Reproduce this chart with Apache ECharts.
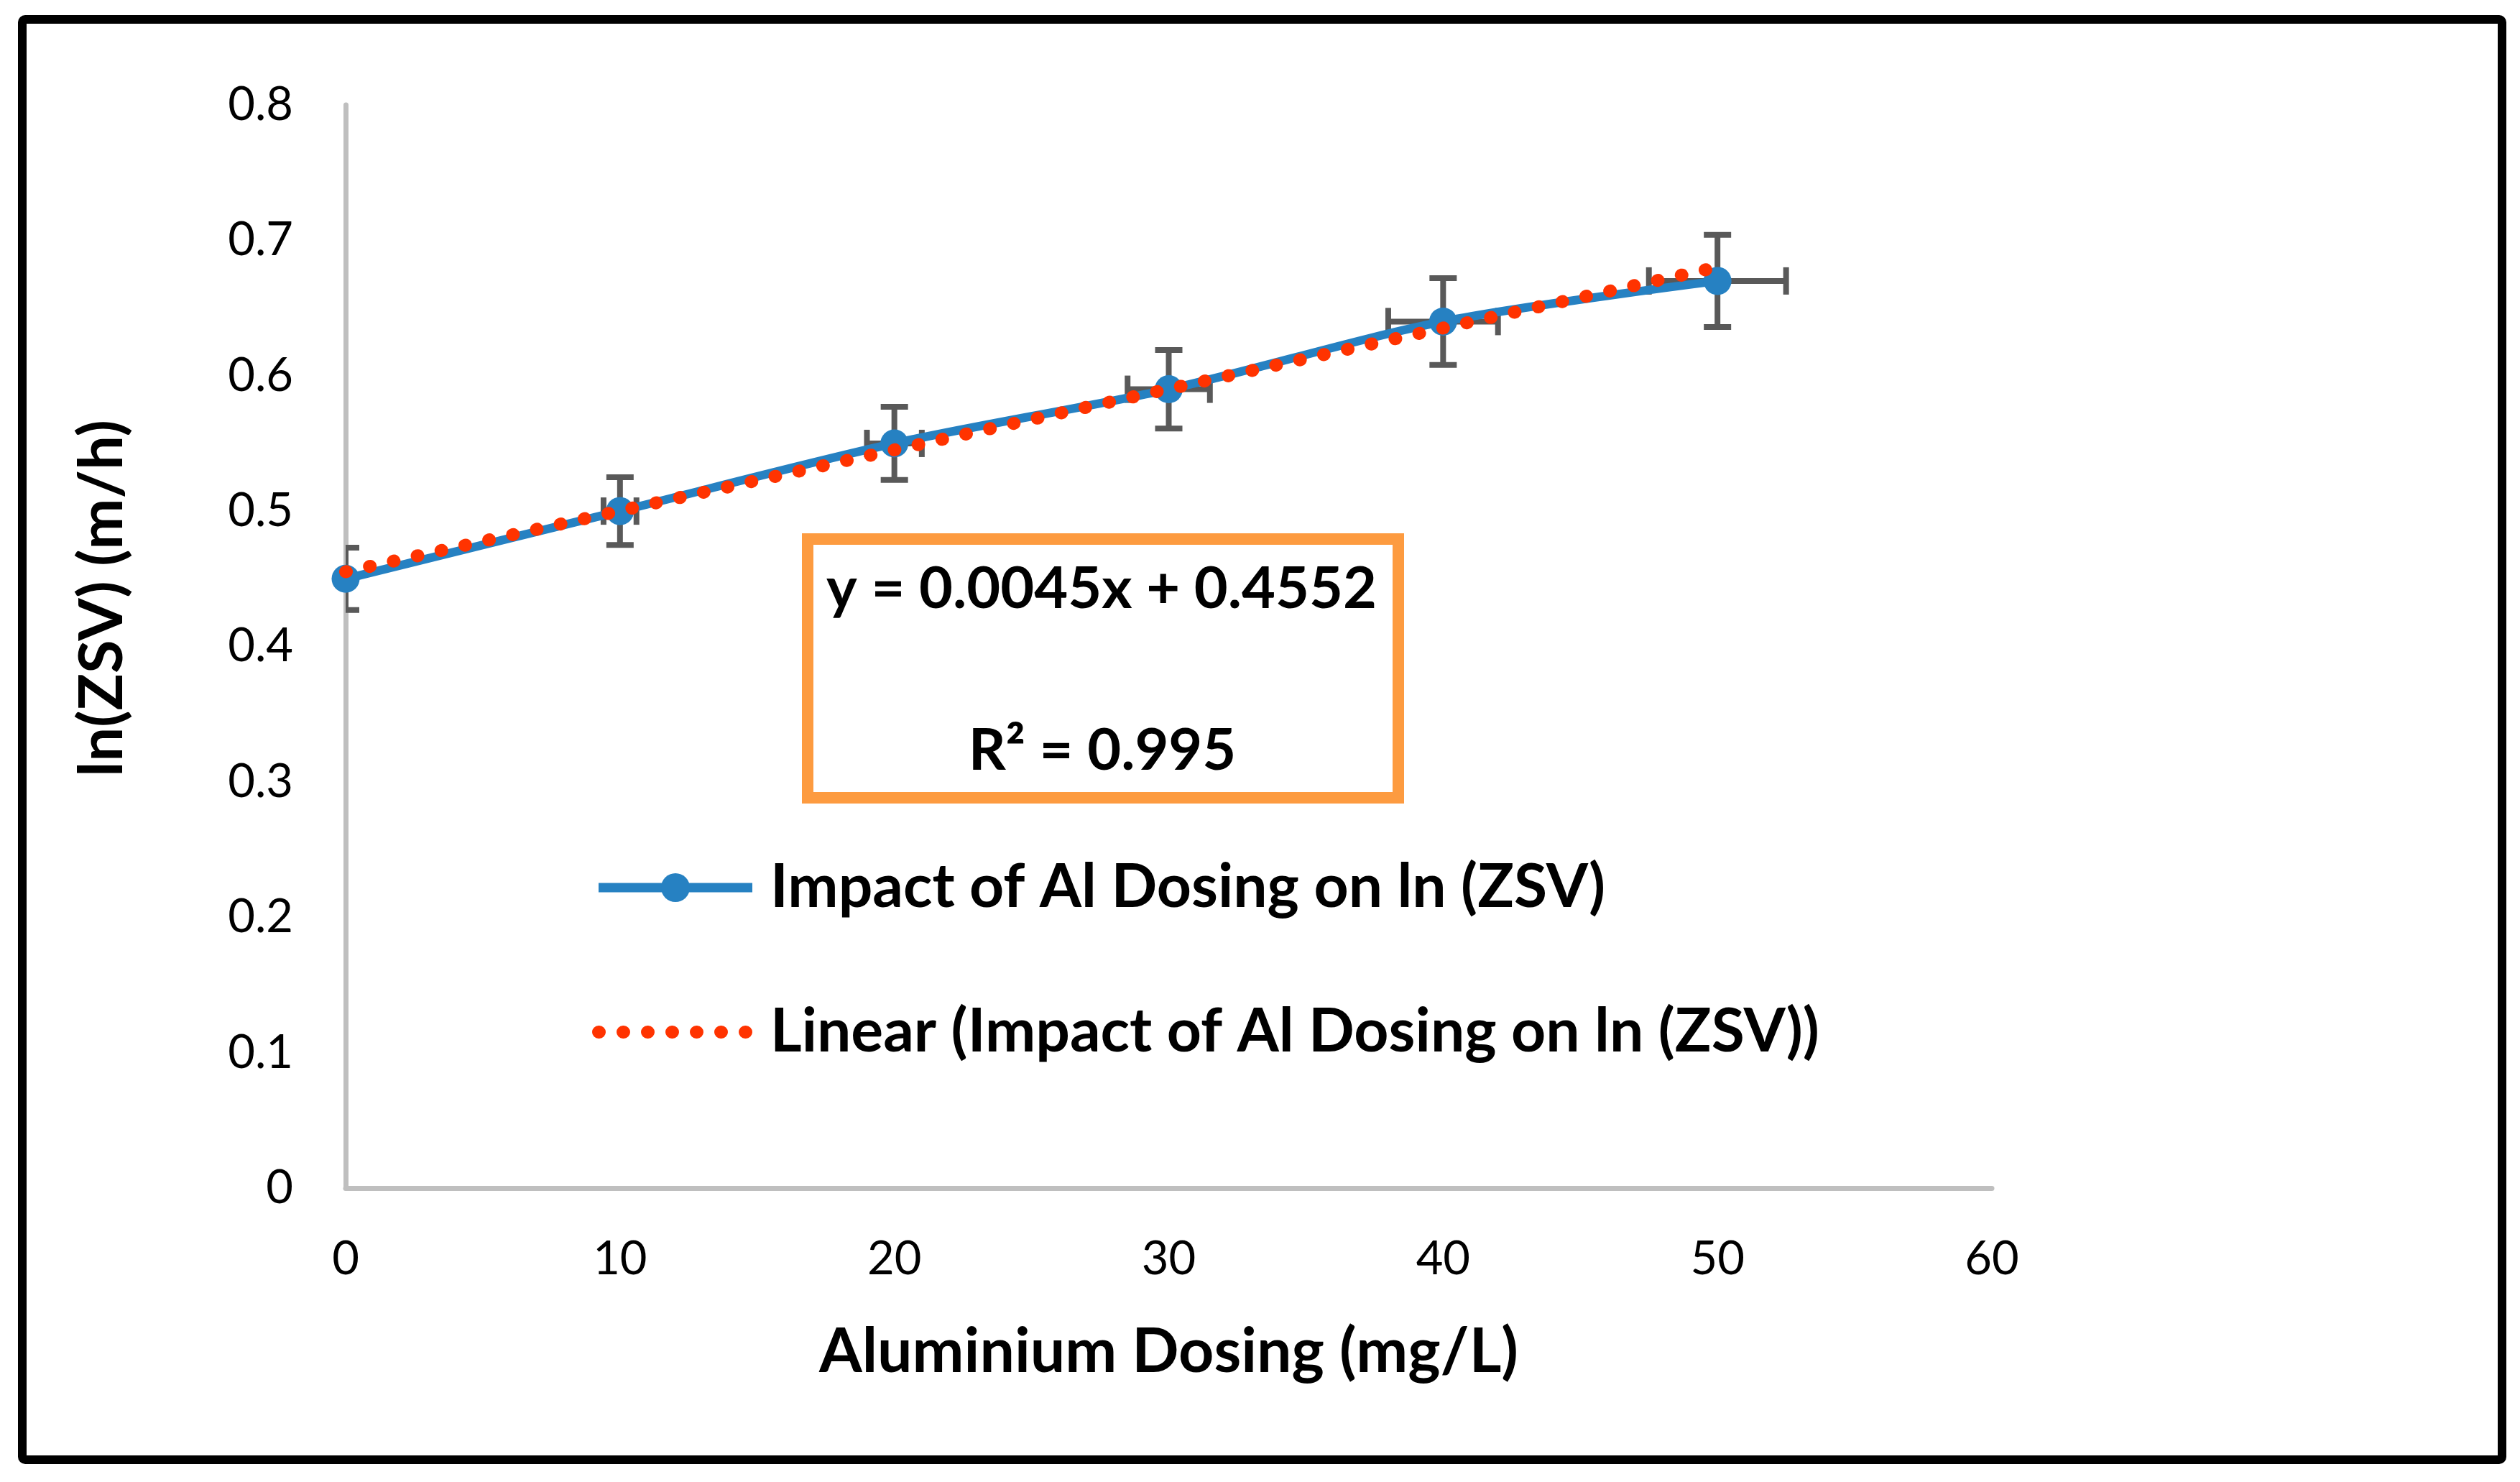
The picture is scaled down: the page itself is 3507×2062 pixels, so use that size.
<!DOCTYPE html>
<html>
<head>
<meta charset="utf-8">
<script src="https://cdn.jsdelivr.net/npm/echarts@6/dist/echarts.min.js"></script>
<style>
  html, body { margin: 0; padding: 0; background: #fff; }
  #chart { width: 3507px; height: 2062px; }
</style>
</head>
<body>
<div id="chart"></div>
<script>
var dom = document.getElementById('chart');
var myChart = echarts.init(dom);

// data
var dosing = [0, 10, 20, 30, 40, 50];
var lnZsv = [0.45, 0.50, 0.55, 0.59, 0.64, 0.67];
var yErr = [0.023, 0.025, 0.027, 0.029, 0.032, 0.034];
var xErr = [0, 0.6, 1.0, 1.5, 2.0, 2.5];
var trendX = [0, 50];
var trendY = [0.4552, 0.6802];
var eqText = 'y = 0.0045x + 0.4552';
var r2Text = 'R\u00b2 = 0.995';

var seriesName = 'Impact of Al Dosing on ln (ZSV)';
var trendName = 'Linear (Impact of Al Dosing on ln (ZSV))';

var blue = '#2681C2';
var red = '#FF3300';
var grey = '#595959';
var font = 'Lato';
var dots = [1, 33];

var points = dosing.map(function (x, i) { return [x, lnZsv[i]]; });
var errData = dosing.map(function (x, i) { return [x, lnZsv[i], xErr[i], yErr[i]]; });
var trendData = trendX.map(function (x, i) { return [x, trendY[i]]; });

function renderErr(params, api) {
    var x = api.value(0), y = api.value(1), dx = api.value(2), dy = api.value(3);
    var c = api.coord([x, y]);
    var top = api.coord([x, y + dy]);
    var bot = api.coord([x, y - dy]);
    var cap = 19;
    var style = { stroke: grey, lineWidth: 8 };
    var kids = [
        { type: 'line', shape: { x1: c[0], y1: top[1], x2: c[0], y2: bot[1] }, style: style },
        { type: 'line', shape: { x1: c[0] - cap, y1: top[1], x2: c[0] + cap, y2: top[1] }, style: style },
        { type: 'line', shape: { x1: c[0] - cap, y1: bot[1], x2: c[0] + cap, y2: bot[1] }, style: style }
    ];
    if (dx > 0) {
        var l = api.coord([x - dx, y]);
        var r = api.coord([x + dx, y]);
        kids.push({ type: 'line', shape: { x1: l[0], y1: c[1], x2: r[0], y2: c[1] }, style: style });
        kids.push({ type: 'line', shape: { x1: l[0], y1: c[1] - cap, x2: l[0], y2: c[1] + cap }, style: style });
        kids.push({ type: 'line', shape: { x1: r[0], y1: c[1] - cap, x2: r[0], y2: c[1] + cap }, style: style });
    }
    return { type: 'group', children: kids };
}

var option = {
    backgroundColor: '#fff',
    animation: false,
    textStyle: { fontFamily: font },
    grid: { left: 481, right: 735, top: 146, bottom: 409, containLabel: false },
    legend: {
        orient: 'vertical',
        left: 819,
        top: 1188,
        itemWidth: 214,
        itemHeight: 50,
        itemGap: 117,
        textStyle: { fontFamily: font, fontWeight: 'bold', fontSize: 84, color: '#000', padding: [0, 0, 0, 20] },
        data: [{
            name: seriesName,
            lineStyle: { color: blue, width: 13 }
        }, {
            name: trendName,
            itemStyle: { opacity: 0 },
            lineStyle: { color: red, width: 18, type: dots, cap: 'round' }
        }]
    },
    xAxis: {
        type: 'value',
        min: 0, max: 60, interval: 10,
        name: 'Aluminium Dosing (mg/L)',
        nameLocation: 'middle',
        nameGap: 185,
        nameTextStyle: { fontFamily: font, fontWeight: 'bold', fontSize: 86, color: '#000' },
        axisLine: { lineStyle: { color: '#BFBFBF', width: 7 } },
        axisTick: { show: false },
        splitLine: { show: false },
        axisLabel: { fontFamily: font, fontSize: 65, color: '#000', margin: 67 }
    },
    yAxis: {
        type: 'value',
        min: 0, max: 0.8, interval: 0.1,
        name: 'ln(ZSV) (m/h)',
        nameLocation: 'middle',
        nameRotate: 90,
        nameGap: 296,
        nameTextStyle: { fontFamily: font, fontWeight: 'bold', fontSize: 85, color: '#000', padding: [0, 0, 0, 134] },
        axisLine: { show: true, lineStyle: { color: '#BFBFBF', width: 7 } },
        axisTick: { show: false },
        splitLine: { show: false },
        axisLabel: { fontFamily: font, fontSize: 65, color: '#000', margin: 73 }
    },
    graphic: [
        { type: 'rect', shape: { x: 31, y: 27, width: 3451, height: 2004, r: 4 },
          style: { fill: 'none', stroke: '#000', lineWidth: 12 }, z: 100 },
        { type: 'rect', shape: { x: 1124, y: 750, width: 822, height: 360 },
          style: { fill: '#fff', stroke: '#FD9B40', lineWidth: 16 }, z: 50 },
        { type: 'text', x: 1533, y: 820, z: 51,
          style: { text: eqText, fill: '#000', font: 'bold 81px Lato', textAlign: 'center', textVerticalAlign: 'middle' } },
        { type: 'text', x: 1534, y: 1045, z: 51,
          style: { text: r2Text, fill: '#000', font: 'bold 81px Lato', textAlign: 'center', textVerticalAlign: 'middle' } }
    ],
    series: [{
        type: 'custom',
        name: 'errors',
        renderItem: renderErr,
        clip: true,
        z: 1,
        encode: { x: 0, y: 1 },
        data: errData
    }, {
        type: 'line',
        name: seriesName,
        data: points,
        smooth: 0.3,
        symbol: 'circle',
        symbolSize: 39,
        z: 2,
        itemStyle: { color: blue },
        lineStyle: { color: blue, width: 12 }
    }, {
        type: 'line',
        name: trendName,
        data: trendData,
        symbol: 'none',
        z: 3,
        itemStyle: { color: red },
        lineStyle: { color: red, width: 18, type: dots, cap: 'round' }
    }]
};

myChart.setOption(option);
</script>
</body>
</html>
